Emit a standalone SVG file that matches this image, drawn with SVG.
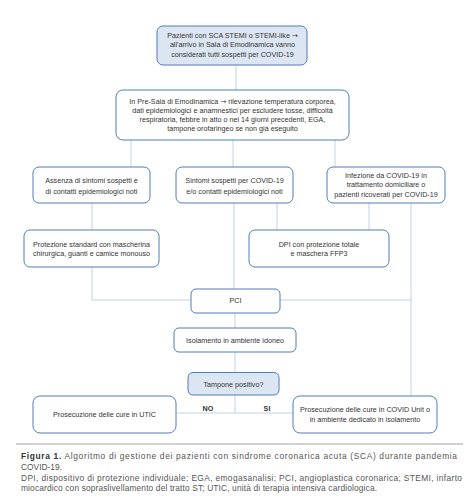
<svg xmlns="http://www.w3.org/2000/svg" width="473" height="502" viewBox="0 0 473 502">
<style>
.box{fill:#ffffff;stroke:#4f7db8;stroke-width:1}
.hl{fill:#dce6f2}
.t{font-family:"Liberation Sans",Arial,sans-serif;font-size:7.2px;fill:#333;text-anchor:middle}
.b{font-weight:bold}
.ar{font-family:"DejaVu Sans",sans-serif;font-size:7px}
.c line,.c polyline{stroke:#b8cce4;stroke-width:0.9;fill:none}
.cap{font-family:"Liberation Sans",Arial,sans-serif;font-size:8.4px;fill:#555}
</style>
<rect width="473" height="502" fill="#ffffff"/>
<g class="c" id="connectors">
<line x1="236" y1="65" x2="236" y2="90"/>
<line x1="131" y1="140" x2="131" y2="167"/>
<line x1="233" y1="140" x2="233" y2="167"/>
<line x1="335" y1="140" x2="335" y2="167"/>
<line x1="92" y1="203" x2="92" y2="230"/>
<line x1="234" y1="203" x2="234" y2="289"/>
<line x1="277" y1="203" x2="277" y2="230"/>
<line x1="369" y1="203" x2="369" y2="230"/>
<line x1="411" y1="203" x2="411" y2="396"/>
<polyline points="92,267 92,300 191,300"/>
<line x1="280" y1="300" x2="411" y2="300"/>
<line x1="235" y1="313" x2="235" y2="328"/>
<line x1="235" y1="352" x2="235" y2="372.5"/>
<line x1="235" y1="395" x2="235" y2="413"/>
<line x1="176" y1="413" x2="293" y2="413"/>
</g>
<g id="n1"><rect class="box hl" x="157" y="26" width="150" height="39" rx="6"/>
<text class="t" x="232.5" y="37.5">Pazienti con SCA STEMI o STEMI-like <tspan class="ar">→</tspan></text>
<text class="t" x="232.5" y="47.3">all'arrivo in Sala di Emodinamica vanno</text>
<text class="t" x="232.5" y="57">considerati tutti sospetti per COVID-19</text></g>
<g id="n2"><rect class="box" x="116" y="90" width="233" height="50" rx="7"/>
<text class="t" x="232.5" y="103.5">In Pre-Sala di Emodinamica <tspan class="ar">→</tspan> rilevazione temperatura corporea,</text>
<text class="t" x="232.5" y="113">dati epidemiologici e anamnestici per escludere tosse, difficoltà</text>
<text class="t" x="232.5" y="122">respiratoria, febbre in atto o nei 14 giorni precedenti, EGA,</text>
<text class="t" x="232.5" y="131">tampone orofaringeo se non già eseguito</text></g>
<g id="nA"><rect class="box" x="33" y="167" width="117" height="36" rx="6"/>
<text class="t" x="91.5" y="183">Assenza di sintomi sospetti e</text>
<text class="t" x="91.5" y="194">di contatti epidemiologici noti</text></g>
<g id="nB"><rect class="box" x="176" y="167" width="117" height="36" rx="6"/>
<text class="t" x="234.5" y="183">Sintomi sospetti per COVID-19</text>
<text class="t" x="234.5" y="194">e/o contatti epidemiologici noti</text></g>
<g id="nC"><rect class="box" x="327" y="167" width="118" height="36" rx="6"/>
<text class="t" x="386" y="177.5">Infezione da COVID-19 in</text>
<text class="t" x="386" y="187">trattamento domiciliare o</text>
<text class="t" x="386" y="196.5">pazienti ricoverati per COVID-19</text></g>
<g id="nD"><rect class="box" x="24" y="230" width="135" height="37" rx="6"/>
<text class="t" x="91.5" y="246.5">Protezione standard con mascherina</text>
<text class="t" x="91.5" y="256">chirurgica, guanti e camice monouso</text></g>
<g id="nE"><rect class="box" x="249" y="230" width="140" height="37" rx="6"/>
<text class="t" x="319" y="246.5">DPI con protezione totale</text>
<text class="t" x="319" y="256">e maschera FFP3</text></g>
<g id="nPCI"><rect class="box" x="191" y="289" width="89" height="24" rx="5"/>
<text class="t" x="235.5" y="302.5">PCI</text></g>
<g id="nIso"><rect class="box" x="174" y="328" width="122" height="24" rx="5"/>
<text class="t" x="235" y="343">Isolamento in ambiente idoneo</text></g>
<g id="nTamp"><rect class="box hl" x="188" y="372.5" width="91" height="22.5" rx="5"/>
<text class="t" x="233.5" y="386.5">Tampone positivo?</text></g>
<g id="nUTIC"><rect class="box" x="33" y="396" width="143" height="37" rx="7"/>
<text class="t" x="104.5" y="416.5">Prosecuzione delle cure in UTIC</text></g>
<g id="nCOVID"><rect class="box" x="293" y="396" width="144" height="37" rx="7"/>
<text class="t" x="365" y="411.5">Prosecuzione delle cure in COVID Unit o</text>
<text class="t" x="365" y="421.5">in ambiente dedicato in isolamento</text></g>
<g id="labels">
<text class="t b" x="208" y="410.5">NO</text>
<text class="t b" x="267" y="410.5">SI</text>
</g>
<g id="caption">
<line x1="16" y1="444" x2="463" y2="444" stroke="#8a8a8a" stroke-width="0.8"/>
<text class="cap" x="21" y="459" textLength="436" lengthAdjust="spacing"><tspan font-weight="bold" fill="#333">Figura 1.</tspan> Algoritmo di gestione dei pazienti con sindrome coronarica acuta (SCA) durante pandemia</text>
<text class="cap" x="21" y="469.5">COVID-19.</text>
<text class="cap" x="21" y="480.5" textLength="441" lengthAdjust="spacing">DPI, dispositivo di protezione individuale; EGA, emogasanalisi; PCI, angioplastica coronarica; STEMI, infarto</text>
<text class="cap" x="21" y="490.5" textLength="356" lengthAdjust="spacing">miocardico con sopraslivellamento del tratto ST; UTIC, unità di terapia intensiva cardiologica.</text>
</g>
</svg>
